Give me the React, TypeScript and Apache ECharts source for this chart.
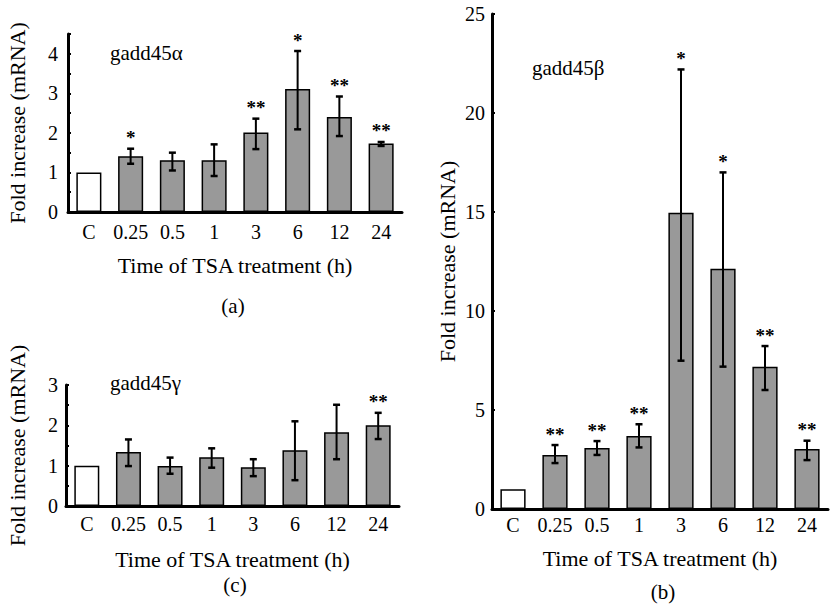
import React, { useEffect, useRef } from 'react';
import * as echarts from 'echarts';

const categories = ['C', '0.25', '0.5', '1', '3', '6', '12', '24'];

const alphaMean = [1.0, 1.41, 1.31, 1.31, 2.01, 3.11, 2.4, 1.73];
const alphaUpper = [null, 1.6, 1.5, 1.71, 2.36, 4.07, 2.92, 1.77];
const alphaLower = [null, 1.22, 1.05, 0.91, 1.59, 2.09, 1.92, 1.67];
const alphaStars = ['', '*', '', '', '**', '*', '**', '**'];

const betaMean = [1.0, 2.73, 3.08, 3.69, 14.96, 12.14, 7.19, 3.03];
const betaUpper = [null, 3.23, 3.43, 4.28, 22.2, 17.0, 8.23, 3.45];
const betaLower = [null, 2.32, 2.73, 3.11, 7.49, 7.19, 6.01, 2.47];
const betaStars = ['', '**', '**', '**', '*', '*', '**', '**'];

const gammaMean = [1.0, 1.34, 0.99, 1.21, 0.96, 1.38, 1.83, 2.0];
const gammaUpper = [null, 1.65, 1.2, 1.43, 1.16, 2.1, 2.51, 2.31];
const gammaLower = [null, 0.99, 0.8, 0.95, 0.74, 0.64, 1.16, 1.66];
const gammaStars = ['', '', '', '', '', '', '', '**'];

const FONT = 'Liberation Serif';

function barData(values: number[]) {
  return values.map((v, i) =>
    i === 0 ? { value: v, itemStyle: { color: '#ffffff' } } : v
  );
}

function errorSeries(
  axisIndex: number,
  upper: (number | null)[],
  lower: (number | null)[],
  stars: string[]
) {
  const items: { idx: number; lo: number; hi: number; star: string }[] = [];
  upper.forEach((u, i) => {
    if (u != null && lower[i] != null) {
      items.push({ idx: i, lo: lower[i] as number, hi: u, star: stars[i] });
    }
  });
  return {
    type: 'custom',
    xAxisIndex: axisIndex,
    yAxisIndex: axisIndex,
    z: 5,
    data: items.map((it) => [it.idx, it.lo, it.hi]),
    renderItem: (params: any, api: any) => {
      const it = items[params.dataIndex];
      const pHi = api.coord([it.idx, it.hi]);
      const pLo = api.coord([it.idx, it.lo]);
      const cap = 3.5;
      const children: any[] = [
        {
          type: 'line',
          shape: { x1: pHi[0], y1: pHi[1], x2: pLo[0], y2: pLo[1] },
          style: { stroke: '#000', lineWidth: 2 },
        },
        {
          type: 'line',
          shape: { x1: pHi[0] - cap, y1: pHi[1], x2: pHi[0] + cap, y2: pHi[1] },
          style: { stroke: '#000', lineWidth: 2.5 },
        },
        {
          type: 'line',
          shape: { x1: pLo[0] - cap, y1: pLo[1], x2: pLo[0] + cap, y2: pLo[1] },
          style: { stroke: '#000', lineWidth: 2.5 },
        },
      ];
      if (it.star) {
        children.push({
          type: 'text',
          x: pHi[0],
          y: pHi[1] - 11,
          style: {
            text: it.star,
            fontSize: 19,
            fontWeight: 'bold',
            fontFamily: FONT,
            fill: '#000',
            align: 'center',
            verticalAlign: 'middle',
          },
        });
      }
      return { type: 'group', children };
    },
  };
}

function xAxisFor(gridIndex: number, labelMargin: number, nameGap: number, tickLen: number) {
  return {
    type: 'category',
    gridIndex,
    data: categories,
    name: 'Time of TSA treatment (h)',
    nameLocation: 'middle',
    nameGap,
    nameTextStyle: { fontFamily: FONT, fontSize: 22, color: '#000' },
    axisLine: { lineStyle: { color: '#000', width: 3 } },
    axisTick: { inside: true, length: tickLen, lineStyle: { color: '#000', width: 2 } },
    axisLabel: {
      interval: 0,
      margin: labelMargin,
      fontFamily: FONT,
      fontSize: 20,
      color: '#000',
    },
  };
}

function yAxisFor(
  gridIndex: number,
  max: number,
  interval: number,
  labelMargin: number,
  nameGap: number
) {
  return {
    type: 'value',
    gridIndex,
    min: 0,
    max,
    interval,
    name: 'Fold increase (mRNA)',
    nameLocation: 'middle',
    nameGap,
    nameTextStyle: { fontFamily: FONT, fontSize: 22, color: '#000' },
    splitLine: { show: false },
    axisLine: { show: true, lineStyle: { color: '#000', width: 3 } },
    axisTick: { show: true, inside: true, length: 3, lineStyle: { color: '#000', width: 2 } },
    axisLabel: {
      margin: labelMargin,
      fontFamily: FONT,
      fontSize: 20,
      color: '#000',
      formatter: (v: number) => (Math.abs(v - Math.round(v)) < 1e-9 ? String(Math.round(v)) : ''),
    },
  };
}

function barSeries(axisIndex: number, values: number[]) {
  return {
    type: 'bar',
    xAxisIndex: axisIndex,
    yAxisIndex: axisIndex,
    barWidth: '60%',
    data: barData(values),
    itemStyle: { color: '#999999', borderColor: '#000', borderWidth: 1.5 },
    z: 2,
  };
}

function label(text: string, x: number, y: number, align: string = 'left') {
  return {
    type: 'text',
    x,
    y,
    style: {
      text,
      fontFamily: FONT,
      fontSize: 21,
      fill: '#000',
      align,
      verticalAlign: 'middle',
    },
  };
}

export default function App() {
  const ref = useRef<HTMLDivElement>(null);

  useEffect(() => {
    document.body.style.margin = '0';
    if (!ref.current) return;
    const chart = echarts.init(ref.current, undefined, { renderer: 'svg' });
    const option: any = {
      animation: false,
      backgroundColor: '#ffffff',
      textStyle: { fontFamily: FONT },
      grid: [
        { left: 68, top: 34, width: 334, height: 178 },
        { left: 492, top: 14, width: 336, height: 495 },
        { left: 66, top: 385, width: 333, height: 121 },
      ],
      xAxis: [xAxisFor(0, 10, 42, 3), xAxisFor(1, 6, 38, 6), xAxisFor(2, 8, 42, 3)],
      yAxis: [
        yAxisFor(0, 4.5, 0.5, 10, 40),
        yAxisFor(1, 25, 5, 7, 34),
        yAxisFor(2, 3, 0.5, 8, 38),
      ],
      series: [
        barSeries(0, alphaMean),
        errorSeries(0, alphaUpper, alphaLower, alphaStars),
        barSeries(1, betaMean),
        errorSeries(1, betaUpper, betaLower, betaStars),
        barSeries(2, gammaMean),
        errorSeries(2, gammaUpper, gammaLower, gammaStars),
      ],
      graphic: [
        label('gadd45α', 110, 53),
        label('gadd45β', 532, 68),
        label('gadd45γ', 110, 383),
        label('(a)', 233, 306, 'center'),
        label('(b)', 663, 592, 'center'),
        label('(c)', 235, 585, 'center'),
      ],
    };
    chart.setOption(option);
    return () => chart.dispose();
  }, []);

  return <div ref={ref} style={{ width: 830, height: 604 }} />;
}
